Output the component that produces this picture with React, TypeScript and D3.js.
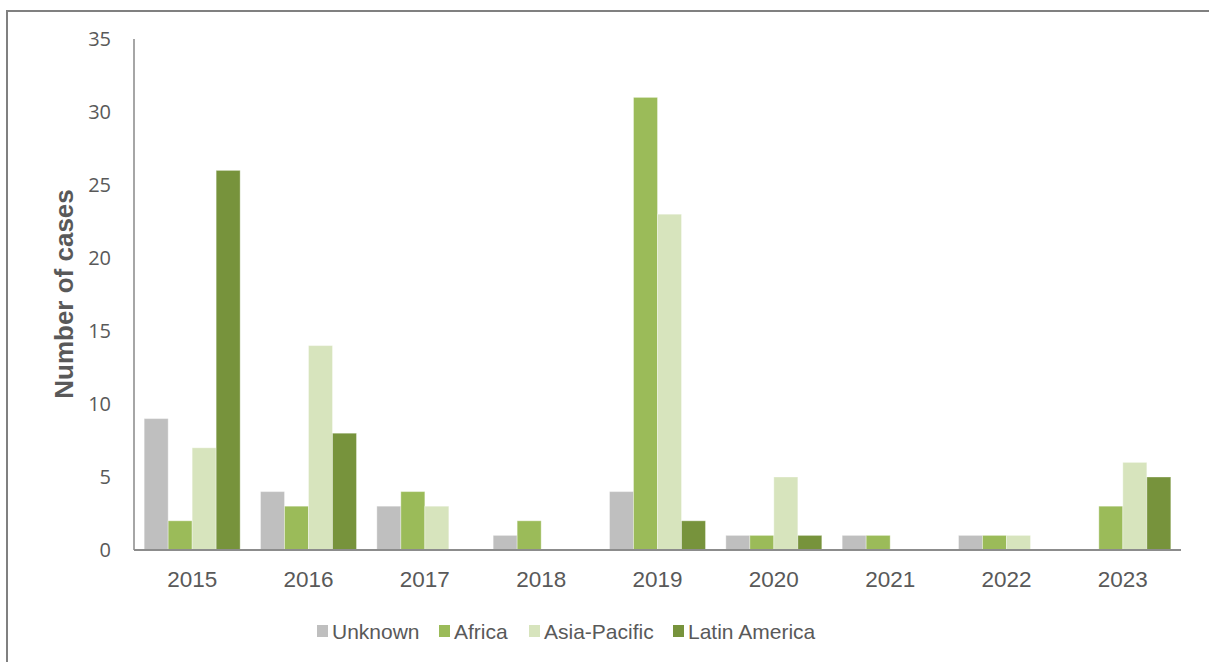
import React from "react";
import * as d3 from "d3";

const years = ["2015", "2016", "2017", "2018", "2019", "2020", "2021", "2022", "2023"];
const seriesNames = ["Unknown", "Africa", "Asia-Pacific", "Latin America"];
const unknownValues = [9, 4, 3, 1, 4, 1, 1, 1, 0];
const africaValues = [2, 3, 4, 2, 31, 1, 1, 1, 3];
const asiaPacificValues = [7, 14, 3, 0, 23, 5, 0, 1, 6];
const latinAmericaValues = [26, 8, 0, 0, 2, 1, 0, 0, 5];
const yTicks = [0, 5, 10, 15, 20, 25, 30, 35];
const colors = ["#BFBFBF", "#9BBB59", "#D7E4BD", "#77933C"];
const legendX = [317, 439, 529, 673];

const seriesValues = [unknownValues, africaValues, asiaPacificValues, latinAmericaValues];

export default function App() {
  const W = 1209;
  const H = 662;
  const left = 134;
  const right = 1181;
  const top = 39;
  const bottom = 550;

  const x = d3.scaleBand<string>().domain(years).range([left, right]).paddingInner(0.175).paddingOuter(0.0875);
  const xs = d3.scaleBand<string>().domain(seriesNames).range([0, x.bandwidth()]).padding(0);
  const y = d3.scaleLinear().domain([0, 35]).range([bottom, top]);

  const textColor = "#595959";

  return (
    <svg width={W} height={H} style={{ position: "absolute", left: 0, top: 0 }}>
      <rect x={0} y={0} width={W} height={H} fill="#fff" />
      <rect x={7} y={11} width={W + 10} height={H + 10} fill="none" stroke="#808080" strokeWidth={2} />
      {/* bars */}
      {years.map((yr, i) => (
        <g key={yr} transform={`translate(${x(yr)},0)`}>
          {seriesNames.map((s, j) => {
            const v = seriesValues[j][i];
            if (!v) return null;
            return (
              <rect
                key={s}
                x={xs(s)}
                y={y(v)}
                width={xs.bandwidth()}
                height={y(0) - y(v)}
                fill={colors[j]}
                stroke="#ffffff"
                strokeOpacity={0.35}
                strokeWidth={1}
              />
            );
          })}
        </g>
      ))}
      {/* y axis */}
      <line x1={left} x2={left} y1={top} y2={bottom} stroke="#898989" strokeWidth={1.5} />
      {yTicks.map((t) => (
        <text
          key={t}
          x={111}
          y={y(t)}
          dy="0.36em"
          textAnchor="end"
          fontFamily="'Open Sans', sans-serif"
          fontSize={20}
          fill={textColor}
        >
          {t}
        </text>
      ))}
      {/* x axis */}
      <line x1={left} x2={right} y1={bottom} y2={bottom} stroke="#8c8c8c" strokeWidth={2} />
      {years.map((yr) => (
        <text
          key={yr}
          x={(x(yr) as number) + x.bandwidth() / 2}
          y={587}
          textAnchor="middle"
          fontFamily="'Liberation Sans', Arial, sans-serif"
          fontSize={22.5}
          fill={textColor}
        >
          {yr}
        </text>
      ))}
      {/* y title */}
      <text
        transform={`translate(73,294) rotate(-90)`}
        textAnchor="middle"
        fontFamily="'Liberation Sans', Arial, sans-serif"
        fontWeight="bold"
        fontSize={26}
        fill={textColor}
      >
        Number of cases
      </text>
      {/* legend */}
      {seriesNames.map((s, j) => (
        <g key={s} transform={`translate(${legendX[j]},0)`}>
          <rect x={0} y={625} width={11} height={12} fill={colors[j]} />
          <text
            x={15}
            y={639}
            fontFamily="'Liberation Sans', Arial, sans-serif"
            fontSize={21}
            fill={textColor}
          >
            {s}
          </text>
        </g>
      ))}
    </svg>
  );
}
